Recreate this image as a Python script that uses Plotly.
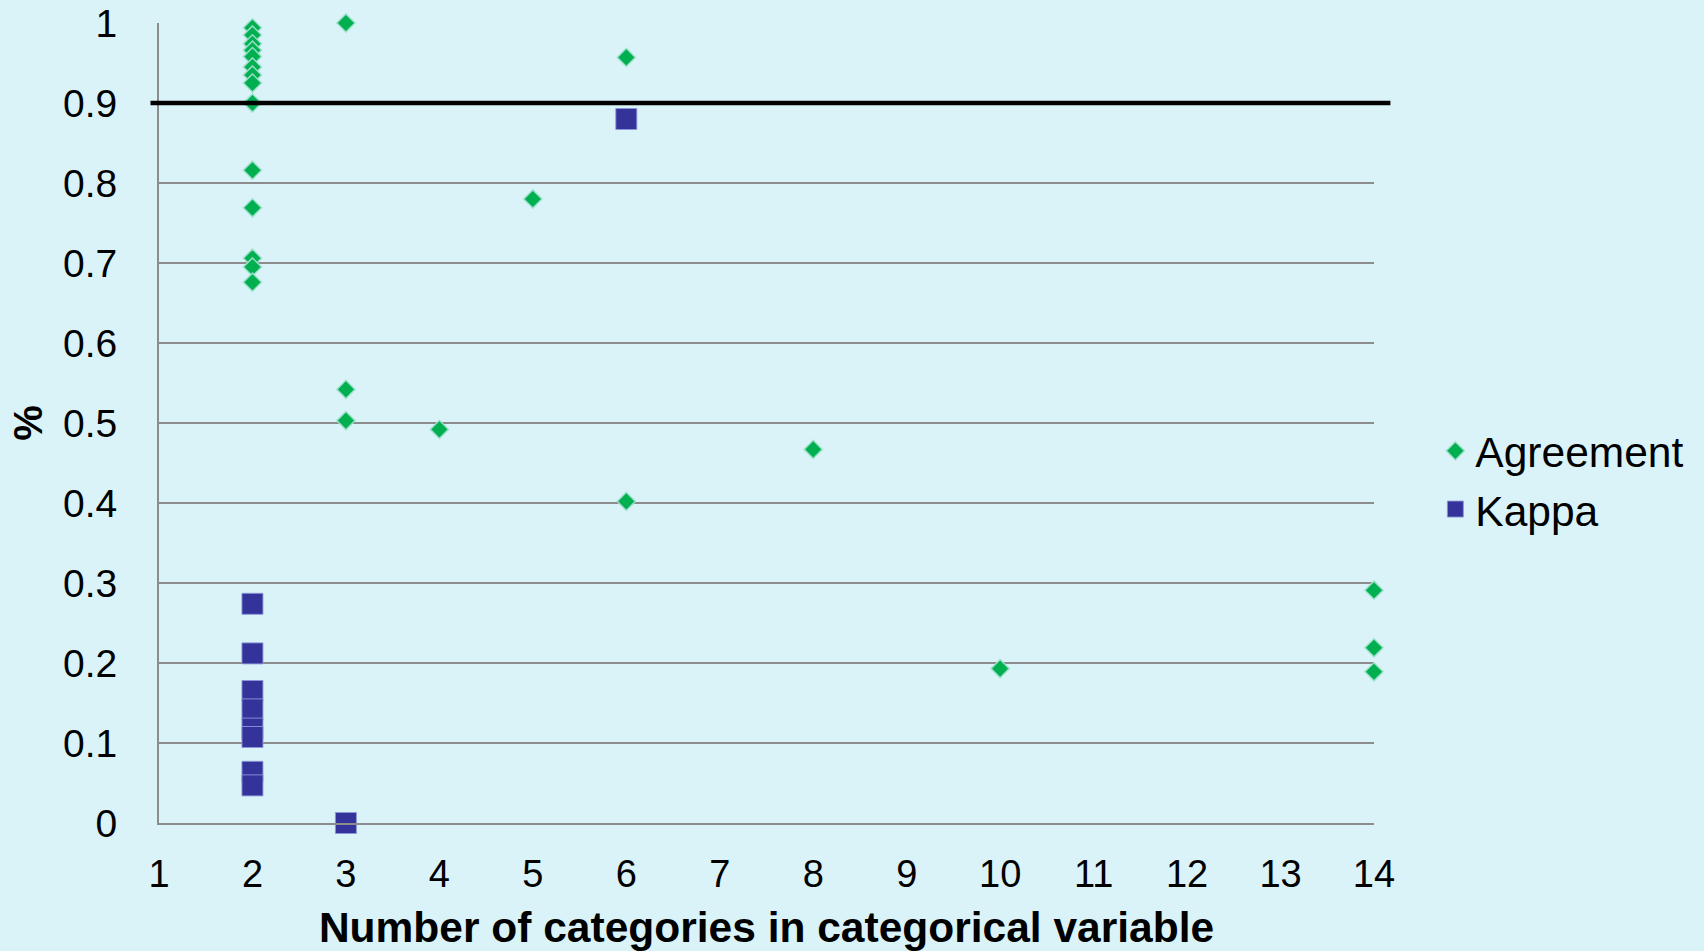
import plotly.graph_objects as go

agree_x = [2, 2, 2, 2, 2, 2, 2, 2, 2, 2, 2, 2, 2, 2,
           3, 3, 3, 4, 5, 6, 6, 8, 10, 14, 14, 14]
agree_y = [0.994, 0.985, 0.974, 0.966, 0.958, 0.945, 0.935, 0.925, 0.900, 0.816, 0.769, 0.706, 0.695, 0.676,
           1.000, 0.542, 0.503, 0.492, 0.780, 0.957, 0.402, 0.467, 0.193, 0.291, 0.219, 0.189]

kappa_x = [2, 2, 2, 2, 2, 2, 2, 2, 3, 6]
kappa_y = [0.274, 0.212, 0.165, 0.142, 0.118, 0.1075, 0.064, 0.047, 0.0, 0.880]

x_ticks = list(range(1, 15))
y_ticks = [0, 0.1, 0.2, 0.3, 0.4, 0.5, 0.6, 0.7, 0.8, 0.9, 1]
threshold = 0.9

BG = "#DAF3F8"
FONT = "Liberation Sans, Arial, sans-serif"

fig = go.Figure()
fig.add_trace(go.Scatter(
    x=agree_x, y=agree_y, mode="markers", name="Agreement",
    marker=dict(symbol="diamond", size=14, color="#00B050",
                line=dict(color="rgba(160,225,205,0.9)", width=1.5)),
    cliponaxis=False,
))
fig.add_trace(go.Scatter(
    x=kappa_x, y=kappa_y, mode="markers", name="Kappa",
    marker=dict(symbol="square", size=21, color="#333399",
                line=dict(color="rgba(140,150,220,0.9)", width=1)),
    cliponaxis=False,
))

fig.add_shape(type="line", xref="paper", yref="y", x0=-0.007, x1=1.0135,
              y0=threshold, y1=threshold, line=dict(color="black", width=4.5), layer="above")

fig.update_layout(
    width=1704, height=951,
    paper_bgcolor=BG, plot_bgcolor=BG,
    margin=dict(l=159, r=330, t=23, b=128, autoexpand=False),
    font=dict(family=FONT, color="black", size=38),
    showlegend=True,
    legend=dict(x=1.0505, xanchor="left", y=0.4285, yanchor="middle",
                bgcolor="rgba(0,0,0,0)", font=dict(size=42.5),
                itemsizing="trace"),
    xaxis=dict(range=[1, 14], tickmode="array", tickvals=x_ticks, automargin=False,
               showgrid=False, zeroline=False, showline=True, linecolor="#8c8c8c", linewidth=2,
               ticks="", tickfont=dict(size=38), ticklabelstandoff=16,
               title=dict(text="<b>Number of categories in categorical variable</b>",
                          font=dict(size=42.5), standoff=21)),
    yaxis=dict(range=[0, 1], tickmode="array", tickvals=y_ticks, automargin=False,
               showgrid=True, gridcolor="#8c8c8c", gridwidth=1.5,
               zeroline=False, showline=True, linecolor="#8c8c8c", linewidth=2,
               ticks="", tickfont=dict(size=39), ticklabelstandoff=32,
               title=dict(text="<b>%</b>", font=dict(size=40), standoff=8)),
)

fig.write_html("out.html", config={"displayModeBar": False},
               post_script="document.body.style.margin='0';document.body.style.overflow='hidden';")
